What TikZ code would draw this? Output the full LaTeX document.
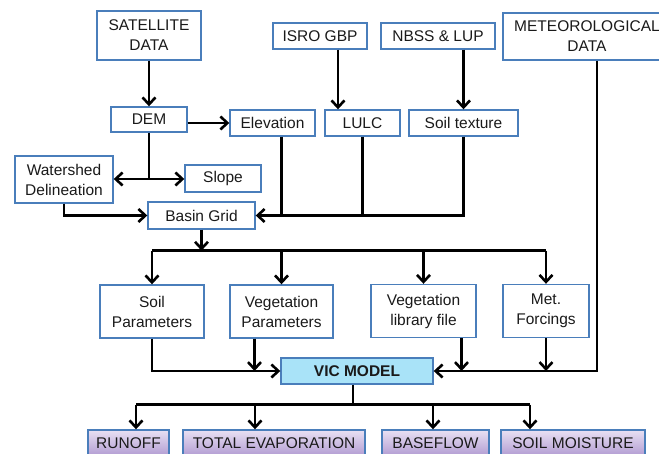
\documentclass[tikz,border=0pt]{standalone}
\usepackage{fontspec}
\setmainfont{Liberation Sans}
\usetikzlibrary{positioning,calc,arrows.meta}
\definecolor{steel}{HTML}{4A7EBB}
\definecolor{vicblue}{HTML}{A9E3F8}
\definecolor{lilac}{HTML}{E8E0F3}
\definecolor{mauve}{HTML}{B29CD2}
\definecolor{ink}{HTML}{1A1A1A}

\begin{document}
\begin{tikzpicture}[x=1pt,y=-1pt,blk/.style={draw=steel,line width=1.4pt,fill=white,align=center,text=ink,inner sep=2pt,font=\fontsize{15.5}{20}\selectfont},res/.style={blk,top color=lilac,bottom color=mauve},arr/.style={-{Straight Barb[length=7pt,width=13pt]},line width=2.6pt},ln/.style={line width=2.6pt}]
    \useasboundingbox (0,0) rectangle (659,454);
    % sources
    \node[blk,minimum width=104pt,minimum height=49pt] (sat) at (149,35.5) {SATELLITE\\DATA};
    \node[blk,minimum width=94pt,minimum height=26pt] (isro) at (320,36) {ISRO GBP};
    \node[blk,minimum width=114pt,minimum height=26pt] (nbss) at (438,36) {NBSS \& LUP};
    \node[blk,minimum width=168pt,minimum height=47pt] (met) at (587,36.5) {METEOROLOGICAL\\DATA};
    \node[blk,minimum width=76pt,minimum height=25pt] (dem) at (149,119.5) {DEM};
    \node[blk,minimum width=85pt,minimum height=26pt] (elev) at (272.5,123) {Elevation};
    \node[blk,minimum width=75pt,minimum height=26pt] (lulc) at (362.5,123) {LULC};
    \node[blk,minimum width=109pt,minimum height=26pt] (soiltex) at (463.5,123) {Soil texture};
    \node[blk,minimum width=98pt,minimum height=47pt] (wshed) at (64,179.5) {Watershed\\Delineation};
    \node[blk,minimum width=76pt,minimum height=27pt] (slope) at (223,178.5) {Slope};
    \node[blk,minimum width=107pt,minimum height=27pt] (basin) at (201.5,215.5) {Basin Grid};
    % model inputs
    \node[blk,minimum width=104pt,minimum height=53pt] (soilpar) at (152,311.5) {Soil\\Parameters};
    \node[blk,minimum width=103pt,minimum height=53pt] (vegpar) at (281.5,311.5) {Vegetation\\Parameters};
    \node[blk,minimum width=105pt,minimum height=53pt] (veglib) at (423.5,311) {Vegetation\\library file};
    \node[blk,minimum width=86pt,minimum height=53pt] (metf) at (546,311) {Met.\\Forcings};
    \node[blk,fill=vicblue,minimum width=152pt,minimum height=26pt,font=\fontsize{15.5}{20}\selectfont\bfseries] (vic) at (357,371) {VIC MODEL};
    % outputs
    \node[res,minimum width=81pt,minimum height=26pt] (runoff) at (128.5,443) {RUNOFF};
    \node[res,minimum width=182pt,minimum height=26pt] (evap) at (274,443) {TOTAL EVAPORATION};
    \node[res,minimum width=107pt,minimum height=26pt] (base) at (435.5,443) {BASEFLOW};
    \node[res,minimum width=144pt,minimum height=26pt] (smoist) at (573,443) {SOIL MOISTURE};

    \coordinate (j1) at (149,179);
    \coordinate (j3) at ($(basin.south)+(0,21)$);
    \coordinate (j4) at ($(vic.south)+(-4,20)$);

    \draw[arr] (sat) -- (dem);
    \draw[arr] (dem.east |- elev) -- (elev.west);
    \draw[arr] ([xshift=18pt]isro.south) -- ([xshift=18pt]isro.south |- lulc.north);
    \draw[arr] (soiltex.north |- nbss.south) -- (soiltex.north);
    \draw[ln] (dem) -- (j1);
    \draw[arr] (j1) -- (j1 -| wshed.east);
    \draw[arr] (j1) -- (j1 -| slope.west);
    \draw[arr] (wshed) |- (basin);
    \draw[arr] ([xshift=9pt]elev.south) |- (basin.east);
    \draw[ln] (lulc) -- (lulc |- basin);
    \draw[ln] (soiltex.south) |- ([xshift=9pt]elev.south |- basin.east);

    \draw[arr] (basin) -- (j3);
    \draw[ln] (j3 -| soilpar) -- (j3 -| metf);
    \foreach \n in {soilpar,vegpar,veglib,metf}
      \draw[arr] (j3 -| \n) -- (\n);

    \draw[arr] (soilpar) |- (vic);
    \draw[arr] ([xshift=-27pt]vegpar.south) -- ([xshift=-27pt]vegpar.south |- vic);
    \draw[arr] ([xshift=10pt]met.south) |- (vic);
    \draw[arr] ([xshift=38pt]veglib.south) -- ([xshift=38pt]veglib.south |- vic);
    \draw[arr] (metf) -- (metf |- vic);

    \draw[ln] ([xshift=-4pt]vic.south) -- (j4);
    \draw[ln] ([xshift=7.5pt]runoff.north |- j4) -- ([xshift=-43pt]smoist.north |- j4);
    \foreach \n/\s in {runoff/7.5,evap/-19,base/-2.5,smoist/-43}
      \draw[arr] ([xshift=\s pt]\n.north |- j4) -- ([xshift=\s pt]\n.north);
  \end{tikzpicture}
\end{document}
